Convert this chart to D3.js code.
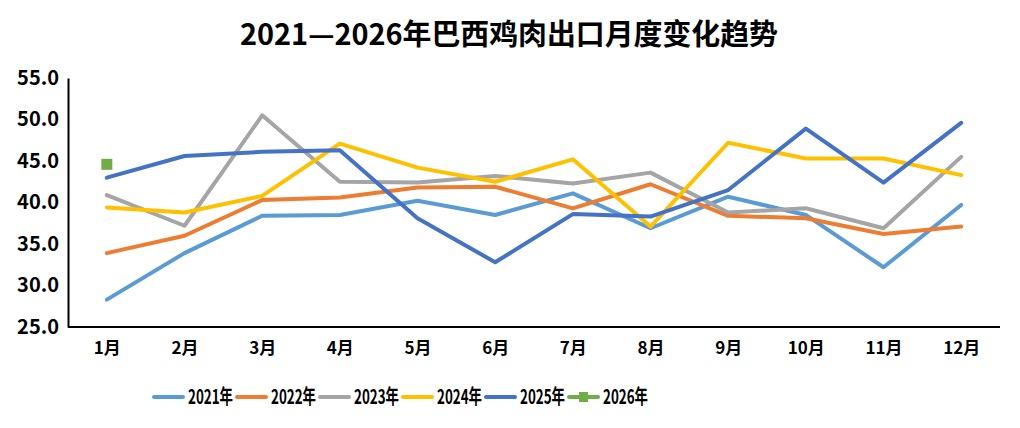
<!DOCTYPE html>
<html><head><meta charset="utf-8">
<script src="https://cdn.jsdelivr.net/npm/d3@7"></script>
<style>body{margin:0;background:#fff;}svg{display:block;}</style>
</head><body>
<svg id="c" width="1020" height="428"></svg>
<script>
const months = ["1月","2月","3月","4月","5月","6月","7月","8月","9月","10月","11月","12月"];
const yTicks = [25,30,35,40,45,50,55];
const s2021 = [28.3,33.9,38.4,38.5,40.2,38.5,41.1,36.9,40.7,38.5,32.2,39.7];
const s2022 = [33.9,36.0,40.3,40.6,41.8,41.9,39.3,42.2,38.4,38.1,36.2,37.1];
const s2023 = [40.9,37.2,50.5,42.5,42.4,43.2,42.3,43.6,38.8,39.3,36.9,45.5];
const s2024 = [39.4,38.8,40.8,47.1,44.2,42.5,45.2,37.1,47.2,45.3,45.3,43.3];
const s2025 = [43.0,45.6,46.1,46.3,38.1,32.8,38.6,38.3,41.5,48.9,42.4,49.6];
const s2026 = [44.6];
const seriesNames = ["2021年","2022年","2023年","2024年","2025年","2026年"];
const colors = ["#5B9BD5","#ED7D31","#A5A5A5","#FFC000","#4472C4","#70AD47"];
const title = "2021—2026年巴西鸡肉出口月度变化趋势";

const series = [s2021,s2022,s2023,s2024,s2025,s2026];
const svg = d3.select("#c");
const font = "'Noto Sans CJK SC','Noto Sans',sans-serif";
const pL=68, pR=1000, pT=78, pB=327;

const x = d3.scalePoint().domain(months).range([pL,pR]).padding(0.5);
const y = d3.scaleLinear().domain([25,55]).range([pB,pT]);

svg.append("text").attr("x",509).attr("y",45).attr("text-anchor","middle")
  .attr("font-family",font).attr("font-weight","bold").attr("font-size",29).attr("fill","#000")
  .attr("textLength",538).attr("lengthAdjust","spacingAndGlyphs").text(title);

// y axis
const ya = svg.append("g").attr("transform",`translate(${pL},0)`)
  .call(d3.axisLeft(y).tickValues(yTicks).tickFormat(d3.format(".1f")).tickSize(0).tickPadding(9));
ya.select(".domain").attr("stroke","#000").attr("stroke-width",2);
ya.selectAll("text").attr("font-family",font).attr("font-weight","bold").attr("font-size",20).attr("fill","#000");

// x axis
const xa = svg.append("g").attr("transform",`translate(0,${pB})`)
  .call(d3.axisBottom(x).tickSize(0).tickPadding(15));
xa.select(".domain").attr("stroke","#000").attr("stroke-width",2).attr("d",`M${pL},0H${pR}`);
xa.selectAll("text").attr("font-family",font).attr("font-weight","bold").attr("font-size",17).attr("fill","#000");

const line = d3.line().x((d,i)=>x(months[i])).y(d=>y(d));
series.forEach((s,k)=>{
  if (s.length>1) {
    svg.append("path").datum(s).attr("d",line).attr("fill","none")
      .attr("stroke",colors[k]).attr("stroke-width",4).attr("stroke-linejoin","round").attr("stroke-linecap","round");
  } else {
    svg.selectAll(null).data(s).enter().append("rect")
      .attr("x",(d,i)=>x(months[i])-5.5).attr("y",d=>y(d)-5.5).attr("width",11).attr("height",11).attr("fill",colors[k]);
  }
});

// legend
const lg = svg.append("g");
seriesNames.forEach((n,k)=>{
  const x0 = 154 + k*83, yy = 397;
  lg.append("line").attr("x1",x0).attr("x2",x0+29).attr("y1",yy).attr("y2",yy)
    .attr("stroke",colors[k]).attr("stroke-width",4).attr("stroke-linecap","round");
  if (k===5) lg.append("rect").attr("x",x0+10).attr("y",yy-5).attr("width",9).attr("height",10).attr("fill",colors[k]);
  lg.append("text").attr("x",x0+34).attr("y",yy+7).attr("font-family",font)
    .attr("font-weight","bold").attr("font-size",20).attr("fill","#000")
    .attr("textLength",45).attr("lengthAdjust","spacingAndGlyphs").text(n);
});
</script>
</body></html>
